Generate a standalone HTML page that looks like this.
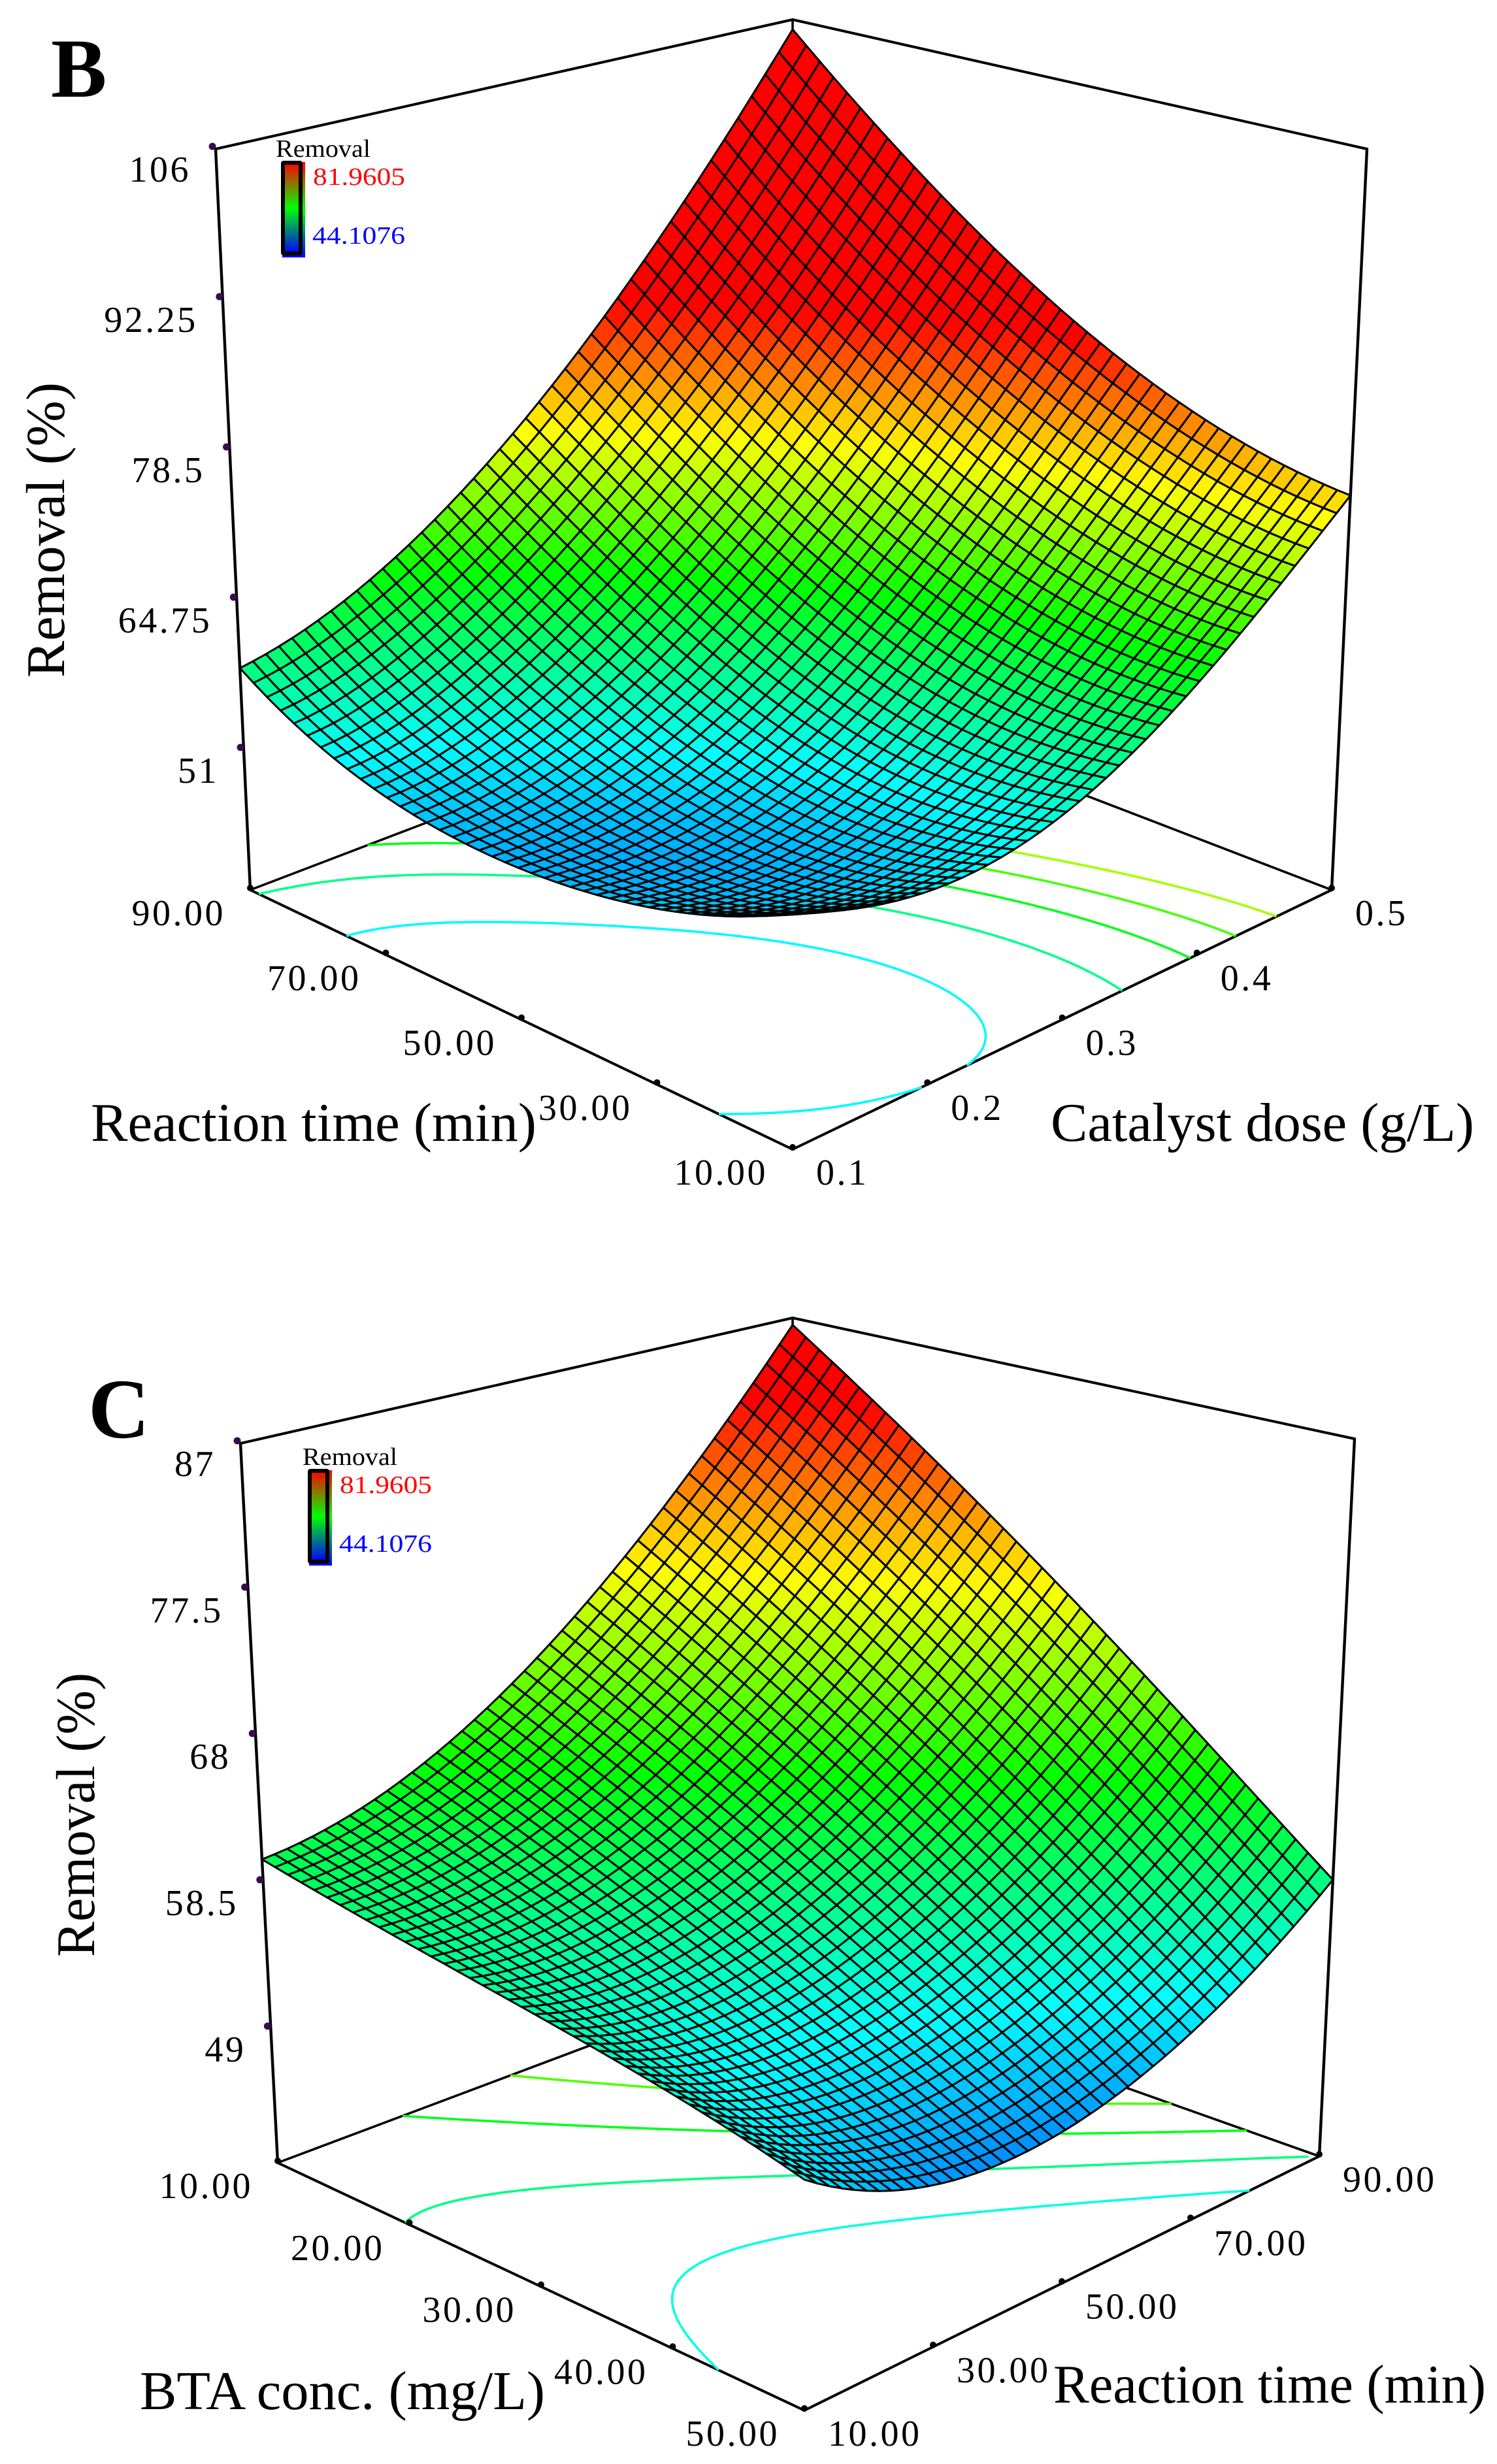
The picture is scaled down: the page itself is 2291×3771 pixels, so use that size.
<!DOCTYPE html>
<html lang="en">
<head>
<meta charset="utf-8">
<title>Response surface plots B and C</title>
<style>
html,body{margin:0;padding:0;background:#fff;}
svg{display:block;}
text{font-family:"Liberation Serif",serif;fill:#000;}
</style>
</head>
<body>
<svg id="figure" xmlns="http://www.w3.org/2000/svg" width="2291" height="3771" viewBox="0 0 2291 3771"></svg>
<script>
// Removal (%) at 5 x 5 control positions.
// Rows: first floor axis (front to left). Columns: second floor axis (front to right).
const removalB = [
  [55.9, 53.37, 55.3, 62.58, 74.3],
  [52.0, 50.8, 54.4, 63.63, 77.11],
  [50.7, 51.5, 57.0, 67.92, 83.15],
  [52.2, 55.3, 63.22, 75.47, 92.46],
  [58.5, 62.99, 72.25, 86.26, 105.0]
];
const contourLevelsB = [53.4, 57.9, 62.1, 65.6, 69.1];
const zTicksB = ["51", "64.75", "78.5", "92.25", "106"];
const timeTicksB = ["10.00", "30.00", "50.00", "70.00", "90.00"];
const doseTicksB = ["0.1", "0.2", "0.3", "0.4", "0.5"];

const removalC = [
  [53.4, 49.8, 49.6, 52.4, 58.3],
  [55.3, 52.82, 53.91, 58.01, 65.13],
  [56.8, 55.92, 58.35, 63.79, 72.25],
  [58.25, 59.01, 62.78, 69.57, 79.38],
  [60, 62.11, 67.22, 75.36, 86.5]
];
const contourLevelsC = [54.7, 58.3, 62, 66];
const zTicksC = ["49", "58.5", "68", "77.5", "87"];
const concTicksC = ["50.00", "40.00", "30.00", "20.00", "10.00"];
const timeTicksC = ["10.00", "30.00", "50.00", "70.00", "90.00"];

const colorMin = 44.1076;
const colorMax = 81.9605;
const SVGNS = "http://www.w3.org/2000/svg";
const svg = document.getElementById("figure");

function make(tag, parent, attrs) {
  const el = document.createElementNS(SVGNS, tag);
  for (const k in attrs) el.setAttribute(k, attrs[k]);
  parent.appendChild(el);
  return el;
}
function mix(p, q, t) { return [p[0] + (q[0] - p[0]) * t, p[1] + (q[1] - p[1]) * t]; }
function bil(A, L, R, B, a, b) {
  return mix(mix(A, L, a), mix(R, B, a), b);
}
function project(c, a, b, w) {
  const f = bil(c.F0, c.L0, c.R0, c.B0, a, b);
  const t = bil(c.F1, c.L1, c.R1, c.B1, a, b);
  return mix(f, t, w);
}
function lagrange(n, t) {
  const out = [];
  for (let i = 0; i < n; i++) {
    let v = 1;
    for (let k = 0; k < n; k++) {
      if (k !== i) v *= (t - k / (n - 1)) / ((i - k) / (n - 1));
    }
    out.push(v);
  }
  return out;
}
function surfaceValue(matrix, a, b) {
  const la = lagrange(matrix.length, a);
  const lb = lagrange(matrix[0].length, b);
  let s = 0;
  for (let i = 0; i < matrix.length; i++) {
    for (let j = 0; j < matrix[0].length; j++) s += la[i] * lb[j] * matrix[i][j];
  }
  return s;
}
function colorFor(z) {
  let t = (z - colorMin) / (colorMax - colorMin);
  t = Math.max(0, Math.min(1, t)) * 4;
  let r = 0, g = 0, bl = 0;
  if (t < 1) { g = t; bl = 1; }
  else if (t < 2) { g = 1; bl = 2 - t; }
  else if (t < 3) { r = t - 2; g = 1; }
  else { r = 1; g = 4 - t; }
  return "rgb(" + Math.round(r * 255) + "," + Math.round(g * 255) + "," + Math.round(bl * 255) + ")";
}
function fmt(p) { return p[0].toFixed(1) + " " + p[1].toFixed(1); }

function addLine(parent, p, q, width, name) {
  const el = make("line", parent, {x1: p[0], y1: p[1], x2: q[0], y2: q[1], stroke: "#000", "stroke-width": width, "stroke-linecap": "round"});
  
  
}
function addText(parent, str, x, y, size, opts, name) {
  const el = make("text", parent, {x: x, y: y, "font-size": size});
  el.textContent = str;
  if (opts.anchor) el.setAttribute("text-anchor", opts.anchor);
  if (opts.fill) el.style.fill = opts.fill;
  if (opts.bold) el.setAttribute("font-weight", "bold");
  if (opts.spacing) el.setAttribute("letter-spacing", opts.spacing);
  if (opts.length) { el.setAttribute("textLength", opts.length); el.setAttribute("lengthAdjust", "spacingAndGlyphs"); }
  if (opts.rotate) el.setAttribute("transform", "rotate(-90 " + x + " " + y + ")");
  
  
  return el;
}
function addDot(parent, p, r, color, name) {
  const el = make("circle", parent, {cx: p[0], cy: p[1], r: r, fill: color});
  
  
}

function drawContours(g, c, matrix, levels) {
  const M = 90;
  const vals = [];
  for (let i = 0; i <= M; i++) {
    const row = [];
    for (let j = 0; j <= M; j++) row.push(surfaceValue(matrix, i / M, j / M));
    vals.push(row);
  }
  levels.forEach(function (lv, idx) {
    let d = "";
    for (let i = 0; i < M; i++) {
      for (let j = 0; j < M; j++) {
        const pts = [];
        const corners = [[i, j], [i + 1, j], [i + 1, j + 1], [i, j + 1]];
        for (let k = 0; k < 4; k++) {
          const p = corners[k], q = corners[(k + 1) % 4];
          const vp = vals[p[0]][p[1]], vq = vals[q[0]][q[1]];
          if ((vp - lv) * (vq - lv) < 0) {
            const t = (lv - vp) / (vq - vp);
            pts.push(project(c, (p[0] + (q[0] - p[0]) * t) / M, (p[1] + (q[1] - p[1]) * t) / M, 0));
          }
        }
        if (pts.length >= 2) d += "M" + fmt(pts[0]) + "L" + fmt(pts[1]);
        if (pts.length === 4) d += "M" + fmt(pts[2]) + "L" + fmt(pts[3]);
      }
    }
    const el = make("path", g, {d: d, fill: "none", stroke: colorFor(lv), "stroke-width": 3.6});
    
    
  });
}

function drawMesh(g, c, matrix, zMin, zMax) {
  const N = 42;
  const pos = function (i, j) {
    const a = i / N, b = j / N;
    return project(c, a, b, (surfaceValue(matrix, a, b) - zMin) / (zMax - zMin));
  };
  for (let i = N - 1; i >= 0; i--) {
    for (let j = N - 1; j >= 0; j--) {
      const z = surfaceValue(matrix, (i + 0.5) / N, (j + 0.5) / N);
      const cell = make("polygon", g, {
        points: [pos(i, j), pos(i + 1, j), pos(i + 1, j + 1), pos(i, j + 1)].map(function (p) { return p[0].toFixed(1) + "," + p[1].toFixed(1); }).join(" "),
        fill: colorFor(z), stroke: "#000", "stroke-width": 3, "stroke-linejoin": "round"
      });
      
      
    }
  }
}

function drawLegend(g, ox, oy, idPrefix) {
  const defs = make("defs", g, {});
  const grad = make("linearGradient", defs, {id: idPrefix, x1: 0, y1: 0, x2: 0, y2: 1});
  make("stop", grad, {offset: "0", "stop-color": "#ff0000"});
  make("stop", grad, {offset: "0.5", "stop-color": "#00ff00"});
  make("stop", grad, {offset: "1", "stop-color": "#0000ff"});
  const shadow = make("rect", g, {x: ox + 432, y: oy + 248, width: 35, height: 146, fill: "url(#" + idPrefix + ")"});
  
  
  const bar = make("rect", g, {x: ox + 433, y: oy + 249, width: 27, height: 139, fill: "url(#" + idPrefix + ")", stroke: "#000", "stroke-width": 6, rx: 1});
  
  
  addText(g, "Removal", ox + 422, oy + 240, 38, {length: 145}, "legend-title");
  addText(g, "81.9605", ox + 479, oy + 283, 38, {fill: "#ff0000", length: 141}, "legend-max-value");
  addText(g, "44.1076", ox + 478, oy + 373, 38, {fill: "#0000ff", length: 142}, "legend-min-value");
}

function drawPanel(cfg) {
  const g = make("g", svg, {});
  
  
  const c = cfg.cube;

  addLine(g, c.F0, c.L0, 4, "floor-edge-front-left");
  addLine(g, c.F0, c.R0, 4, "floor-edge-front-right");
  addLine(g, c.L0, c.B0, 3.6, "floor-edge-back-left");
  addLine(g, c.R0, c.B0, 3.6, "floor-edge-back-right");
  addLine(g, c.L0, c.L1, 4.4, "wall-edge-left");
  addLine(g, c.R0, c.R1, 4.4, "wall-edge-right");
  addLine(g, c.B0, c.B1, 3.6, "wall-edge-back");
  addLine(g, c.L1, c.B1, 4, "wall-top-left");
  addLine(g, c.R1, c.B1, 4, "wall-top-right");

  drawContours(g, c, cfg.matrix, cfg.levels);
  drawMesh(g, c, cfg.matrix, cfg.zMin, cfg.zMax);

  const dx = -38, dy = 54, dyZ = 50, tickSize = 56, ls = 3.5;
  cfg.zTicks.forEach(function (lab) {
    const w = (parseFloat(lab) - cfg.zMin) / (cfg.zMax - cfg.zMin);
    const p = project(c, 1, 0, w);
    addDot(g, [p[0] - 5, p[1] - 4], 5.5, "#3a0a50", "z-axis-tick");
    addText(g, lab, p[0] + dx, p[1] + dyZ, tickSize, {anchor: "end", spacing: ls}, "z-axis-tick-label");
  });
  cfg.aTicks.forEach(function (lab) {
    const a = cfg.aOf(parseFloat(lab));
    const p = mix(c.F0, c.L0, a);
    addDot(g, [p[0], p[1] - 3], 5, "#000", "left-axis-tick");
    addText(g, lab, p[0] + dx, p[1] + dy, tickSize, {anchor: "end", spacing: ls}, "left-axis-tick-label");
  });
  cfg.bTicks.forEach(function (lab) {
    const b = cfg.bOf(parseFloat(lab));
    const p = mix(c.F0, c.R0, b);
    addDot(g, [p[0], p[1] - 3], 5, "#000", "right-axis-tick");
    addText(g, lab, p[0] + 36, p[1] + dy, tickSize, {spacing: ls}, "right-axis-tick-label");
  });

  addText(g, "Removal (%)", cfg.zTitle[0], cfg.zTitle[1], 84, {rotate: true, length: cfg.zTitle[2]}, "z-axis-title");
  addText(g, cfg.aTitle[0], cfg.aTitle[1], cfg.aTitle[2], 84, {length: cfg.aTitle[3]}, "left-axis-title");
  addText(g, cfg.bTitle[0], cfg.bTitle[1], cfg.bTitle[2], 84, {length: cfg.bTitle[3]}, "right-axis-title");
  addText(g, cfg.id, cfg.letter[0], cfg.letter[1], cfg.letter[2], {bold: true}, "panel-letter");
  drawLegend(g, cfg.legend[0], cfg.legend[1], "legend-gradient-" + cfg.id);
}

drawPanel({
  id: "B",
  matrix: removalB,
  levels: contourLevelsB,
  zMin: 38.2,
  zMax: 106,
  zTicks: zTicksB,
  aTicks: timeTicksB,
  bTicks: doseTicksB,
  aOf: function (v) { return (v - 10) / 80; },
  bOf: function (v) { return (v - 0.1) / 0.4; },
  cube: {
    F0: [1213, 1759], L0: [383, 1362], R0: [2038, 1362], B0: [1213, 1045],
    F1: [1213, 372], L1: [330, 228], R1: [2092, 228], B1: [1213, 30]
  },
  zTitle: [98, 1037, 452],
  aTitle: ["Reaction time (min)", 139, 1746, 682],
  bTitle: ["Catalyst dose (g/L)", 1608, 1746, 648],
  letter: [78, 148, 128],
  legend: [0, 0]
});

drawPanel({
  id: "C",
  matrix: removalC,
  levels: contourLevelsC,
  zMin: 40.3,
  zMax: 87,
  zTicks: zTicksC,
  aTicks: concTicksC,
  bTicks: timeTicksC,
  aOf: function (v) { return (50 - v) / 40; },
  bOf: function (v) { return (v - 10) / 80; },
  cube: {
    F0: [1231, 3689], L0: [425, 3310], R0: [2019, 3300], B0: [1213, 3014],
    F1: [1231, 2430], L1: [368, 2209], R1: [2073, 2202], B1: [1213, 2017]
  },
  zTitle: [144, 2995, 435],
  aTitle: ["BTA conc. (mg/L)", 214, 3687, 620],
  bTitle: ["Reaction time (min)", 1612, 3677, 662],
  letter: [135, 2200, 130],
  legend: [41, 2002]
});
</script>
</body>
</html>
